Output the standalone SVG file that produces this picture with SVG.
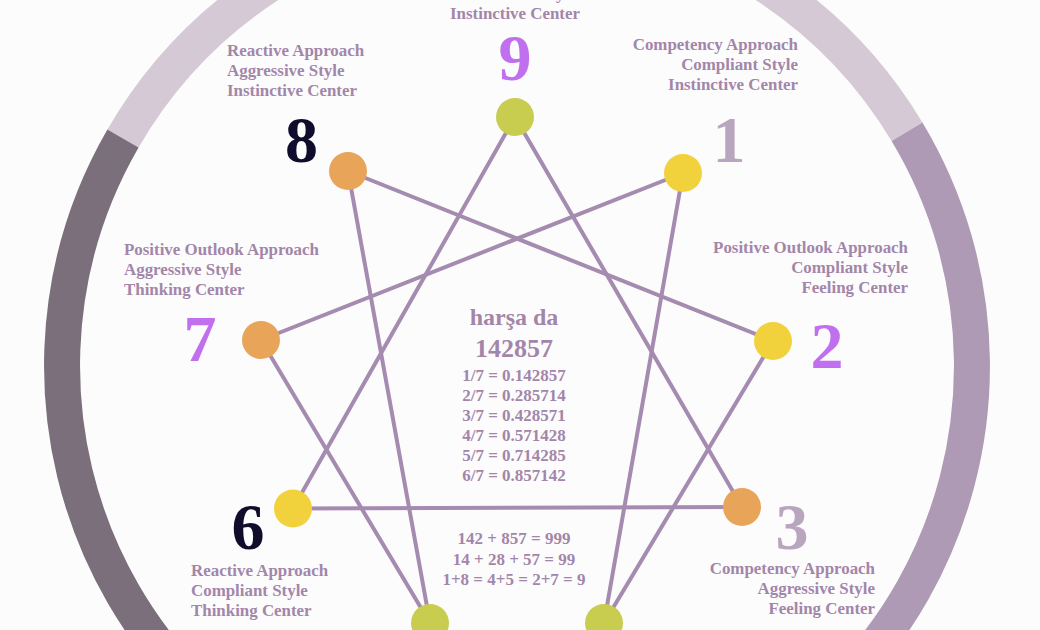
<svg xmlns="http://www.w3.org/2000/svg" width="1040" height="630" viewBox="0 0 1040 630">
<style>
.lbl{font-family:"Liberation Serif","Times New Roman",serif;font-weight:bold;font-size:16.9px;fill:#a286a9}
.ctr{font-family:"Liberation Serif","Times New Roman",serif;font-weight:bold;fill:#a286a9;text-anchor:middle}
.num{font-family:"Liberation Serif","Times New Roman",serif;font-weight:bold;font-size:66px;text-anchor:middle}
.ring{fill:none;stroke-width:36}
.edge{stroke:#a58bb0;stroke-width:4;stroke-linecap:round}
.ng{fill:#c8cd50}.no{fill:#e8a55a}.ny{fill:#f2d23c}
.end{text-anchor:end}
</style>
<rect width="1040" height="630" fill="#fdfcfd"/>
<g id="ring">
<path class="ring" stroke="#d5c9d5" d="M 123 138.5 A 455 455 0 0 1 907 131.7"/>
<path class="ring" stroke="#ae9ab4" d="M 907 131.7 A 455 455 0 0 1 517 821"/>
<path class="ring" stroke="#7a6f7a" d="M 517 821 A 455 455 0 0 1 123 138.5"/>
</g>
<g id="connectors">
<line class="edge" x1="683" y1="173" x2="604" y2="623"/>
<line class="edge" x1="604" y1="623" x2="773" y2="341"/>
<line class="edge" x1="773" y1="341" x2="348" y2="171"/>
<line class="edge" x1="348" y1="171" x2="430" y2="623"/>
<line class="edge" x1="430" y1="623" x2="261" y2="340"/>
<line class="edge" x1="261" y1="340" x2="683" y2="173"/>
<line class="edge" x1="515" y1="117" x2="742" y2="507"/>
<line class="edge" x1="742" y1="507" x2="293" y2="508.5"/>
<line class="edge" x1="293" y1="508.5" x2="515" y2="117"/>
</g>
<g id="node9">
<circle class="ng" cx="515" cy="117" r="19"/>
<text class="num" x="515" y="80" fill="#c070ee">9</text>
<text class="lbl" x="515" y="-1" text-anchor="middle">Withdrawn Style</text>
<text class="lbl" x="515" y="19" text-anchor="middle">Instinctive Center</text>
</g>
<g id="node1">
<circle class="ny" cx="683" cy="173" r="19"/>
<text class="num" x="729" y="162" fill="#b9a5bd">1</text>
<text class="lbl end" x="798" y="50">Competency Approach</text>
<text class="lbl end" x="798" y="70">Compliant Style</text>
<text class="lbl end" x="798" y="90">Instinctive Center</text>
</g>
<g id="node2">
<circle class="ny" cx="773" cy="341" r="19"/>
<text class="num" x="827" y="368" fill="#c070ee">2</text>
<text class="lbl end" x="908" y="253">Positive Outlook Approach</text>
<text class="lbl end" x="908" y="273">Compliant Style</text>
<text class="lbl end" x="908" y="293">Feeling Center</text>
</g>
<g id="node3">
<circle class="no" cx="742" cy="507" r="19"/>
<text class="num" x="792" y="549" fill="#b9a5bd">3</text>
<text class="lbl end" x="875" y="573.5">Competency Approach</text>
<text class="lbl end" x="875" y="594">Aggressive Style</text>
<text class="lbl end" x="875" y="614">Feeling Center</text>
</g>
<g id="node4">
<circle class="ng" cx="604" cy="623" r="19"/>
</g>
<g id="node5">
<circle class="ng" cx="430" cy="623" r="19"/>
</g>
<g id="node6">
<circle class="ny" cx="293" cy="508.5" r="19"/>
<text class="num" x="248" y="549" fill="#0f0d2b">6</text>
<text class="lbl" x="191" y="576">Reactive Approach</text>
<text class="lbl" x="191" y="596">Compliant Style</text>
<text class="lbl" x="191" y="616">Thinking Center</text>
</g>
<g id="node7">
<circle class="no" cx="261" cy="340" r="19"/>
<text class="num" x="200" y="361" fill="#c070ee">7</text>
<text class="lbl" x="124" y="255">Positive Outlook Approach</text>
<text class="lbl" x="124" y="275">Aggressive Style</text>
<text class="lbl" x="124" y="295">Thinking Center</text>
</g>
<g id="node8">
<circle class="no" cx="348" cy="171" r="19"/>
<text class="num" x="301.5" y="161.5" fill="#0f0d2b">8</text>
<text class="lbl" x="227" y="56">Reactive Approach</text>
<text class="lbl" x="227" y="76">Aggressive Style</text>
<text class="lbl" x="227" y="96">Instinctive Center</text>
</g>
<g id="center">
<text class="ctr" x="514" y="325" font-size="24">harşa da</text>
<text class="ctr" x="514" y="357" font-size="26">142857</text>
<text class="ctr" x="514" y="381" font-size="17">1/7 = 0.142857</text>
<text class="ctr" x="514" y="401" font-size="17">2/7 = 0.285714</text>
<text class="ctr" x="514" y="421" font-size="17">3/7 = 0.428571</text>
<text class="ctr" x="514" y="441" font-size="17">4/7 = 0.571428</text>
<text class="ctr" x="514" y="461" font-size="17">5/7 = 0.714285</text>
<text class="ctr" x="514" y="481" font-size="17">6/7 = 0.857142</text>
<text class="ctr" x="514" y="543.5" font-size="17">142 + 857 = 999</text>
<text class="ctr" x="514" y="564.5" font-size="17">14 + 28 + 57 = 99</text>
<text class="ctr" x="514" y="584.5" font-size="17">1+8 = 4+5 = 2+7 = 9</text>
</g>
</svg>
